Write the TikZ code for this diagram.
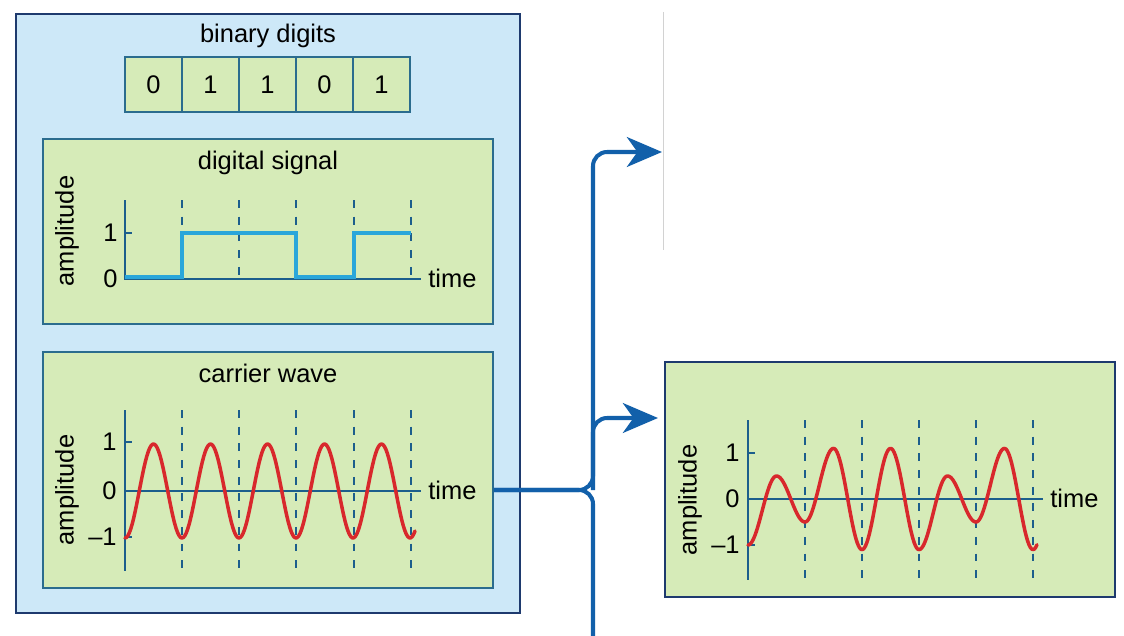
\documentclass[tikz,border=0pt]{standalone}
\usepackage{fontspec}
\setmainfont{Liberation Sans}
\usetikzlibrary{positioning, fit, arrows.meta}

\definecolor{paleblue}{HTML}{CDE8F8}
\definecolor{boxnavy}{HTML}{1E3A6E}
\definecolor{palegreen}{HTML}{D6EBB8}
\definecolor{panelline}{HTML}{2B6C8E}
\definecolor{sigcyan}{HTML}{2AA6DA}
\definecolor{wavered}{HTML}{D8282C}
\definecolor{linkblue}{HTML}{1260AA}
\definecolor{axisblue}{HTML}{1C5E8C}

\tikzset{
  every node/.style={font=\fontsize{14.5}{17}\selectfont},
  outerbox/.style={draw=boxnavy, fill=paleblue, line width=1.2pt, inner sep=0pt},
  panel/.style={draw=panelline, fill=palegreen, line width=1.1pt, inner sep=0pt},
  cell/.style={draw=panelline, fill=palegreen, line width=1.1pt, minimum width=1.14cm, minimum height=1.1cm, inner sep=0pt},
  axis/.style={draw=axisblue, line width=1.4pt},
  slot/.style={draw=axisblue, line width=0.9pt, dash pattern=on 4.5pt off 5pt},
  wave/.style={draw=wavered, line width=2pt, line cap=round, line join=round},
  ticklab/.style={anchor=east, inner sep=0pt},
  conn/.style={draw=linkblue, line width=2.3pt, rounded corners=8pt},
}

\begin{document}
\begin{tikzpicture}[x=0.02cm, y=-0.02cm, >={Stealth[length=20pt, width=17pt, inset=6pt]}]
  \useasboundingbox (0,0) rectangle (1124,635);

  % left box with the three parts
  \node[outerbox, fit={(16,14) (520,613)}] (outer) {};
  \node (bintitle) at (268,36) {binary digits};
  \foreach \b [count=\i] in {0,1,1,0,1}
    \node[cell] (bit\i) at ({125+57*(\i-0.5)},84.5) {\b};

  % digital signal
  \node[panel, fit={(43,139) (493,324)}] (digital) {};
  \node (digtitle) at (268,163) {digital signal};
  \node[rotate=90] (digamp) at (67,231) {amplitude};
  \node[ticklab] (dig1) at (118,233) {1};
  \node[ticklab] (dig0) at (118,279) {0};
  \node[anchor=west, inner sep=0pt] (digtime) at (428,278) {time};
  \foreach \t in {182,239,296,354,411}
    \draw[slot] (\t,200) -- (\t,279);
  \draw[axis] (125,200) -- (125,279) -- (421,279);
  \draw[axis] (125,233) -- (132,233);
  \draw[sigcyan, line width=2.1pt] (125,277) -- (182,277) -- (182,233) -- (296,233)
    -- (296,277) -- (354,277) -- (354,233) -- (411,233);

  % carrier wave
  \node[panel, fit={(43,352) (493,588)}] (carrier) {};
  \node (cartitle) at (268,373) {carrier wave};
  \node[rotate=90] (caramp) at (67,490) {amplitude};
  \node[ticklab] (car1) at (117,442) {1};
  \node[ticklab] (car0) at (117,491) {0};
  \node[ticklab] (carm) at (117,537) {\textendash1};
  \node[anchor=west, inner sep=0pt] (cartime) at (428,490) {time};
  \foreach \t in {182,239,296,354,411}
    \draw[slot] (\t,410) -- (\t,571);
  \draw[axis, line width=0.7pt] (125,491) -- (421,491);
  \draw[axis] (125,410) -- (125,571);
  \draw[axis] (125,442) -- (132,442) (125,537) -- (132,537);
  \draw[wave] plot[domain=125:415, samples=200] (\x, {491+47*cos((\x-125)*6.31579)});

  % modulated signal
  \node[panel, draw=boxnavy, fit={(665,362) (1115,597)}] (modpanel) {};
  \node[rotate=90] (modamp) at (690,500) {amplitude};
  \node[ticklab] (mod1) at (740,453) {1};
  \node[ticklab] (mod0) at (740,499) {0};
  \node[ticklab] (modm) at (740,545) {\textendash1};
  \node[anchor=west, inner sep=0pt] (modtime) at (1050,498) {time};
  \foreach \t in {805,862,919,976,1033}
    \draw[slot] (\t,420) -- (\t,580);
  \draw[axis] (748,420) -- (748,580);
  \draw[axis] (748,499) -- (1043,499);
  \draw[axis] (748,453) -- (755,453) (748,545) -- (755,545);
  \foreach \s/\L/\P/\R/\e in {748/-1/0.5/-0.5/57, 805/-0.5/1.1/-1.1/57, 862/-1.1/1.1/-1.1/57,
                              919/-1.1/0.5/-0.5/57, 976/-0.5/1.1/-1.1/61}
    \draw[wave] plot[domain=\s:\s+28.5] (\x, {499-46*((\L)+((\P)-(\L))*(1-cos((\x-\s)*6.31579))/2)})
      -- plot[domain=\s+28.5:\s+\e] (\x, {499-46*((\R)+((\P)-(\R))*(1-cos((\x-\s)*6.31579))/2)});

  % connectors
  \coordinate (jn) at (593,490);
  \coordinate (topend) at (662,152);
  \coordinate (lowend) at (658,418);
  \coordinate (botend) at (593,640);
  \draw[gray!35, line width=0.5pt] (663,12) -- (663,250);
  \draw[conn, ->] (carrier.east |- jn) -- (jn) -- (jn |- topend) -- (topend);
  \draw[conn] (carrier.east |- jn) -- (jn) -- (botend);
  \draw[conn, ->] (jn) -- (jn |- lowend) -- (lowend);
\end{tikzpicture}
\end{document}
